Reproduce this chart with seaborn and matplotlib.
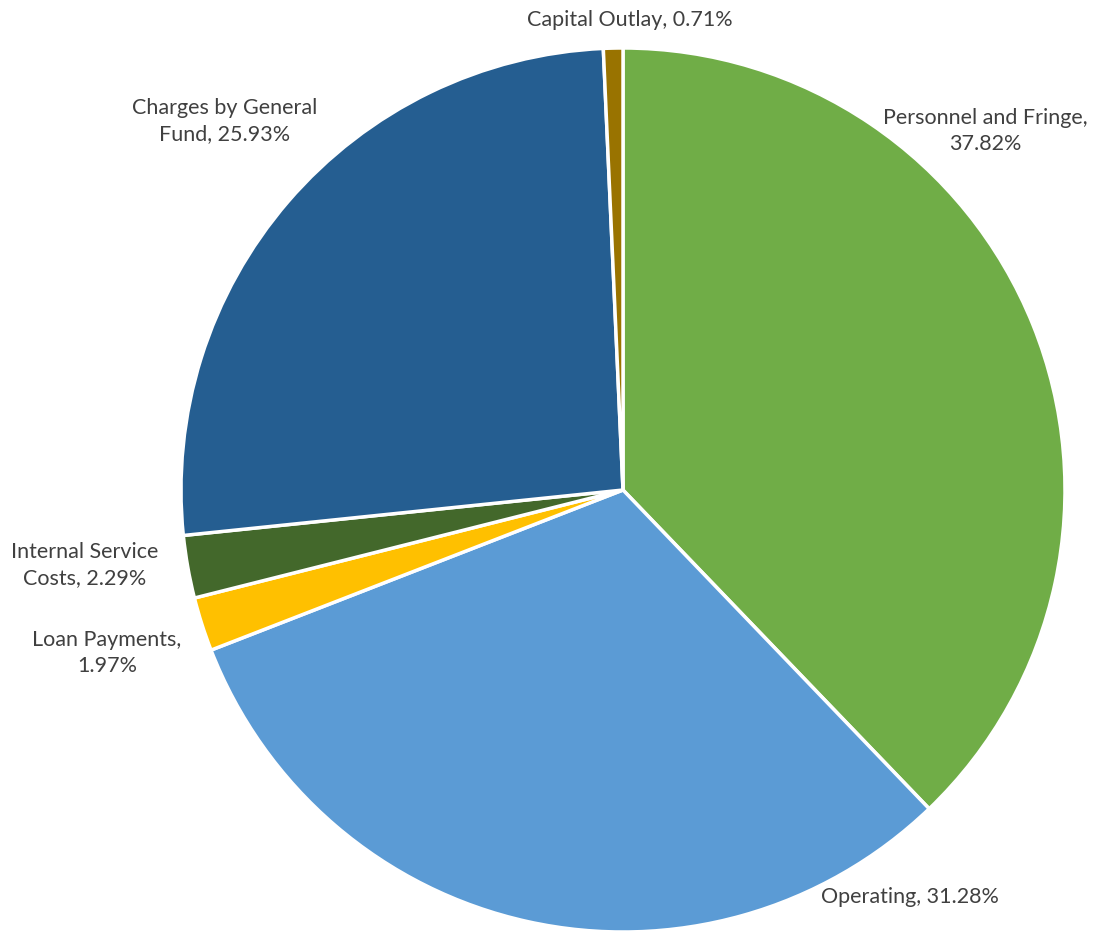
import matplotlib
matplotlib.use("Agg")
import matplotlib.pyplot as plt
import seaborn as sns

sns.set_theme(style="white")
plt.rcParams['font.family'] = ['Lato', 'DejaVu Sans']

# Budget categories, clockwise from 12 o'clock
categories = ["Personnel and Fringe", "Operating", "Loan Payments",
              "Internal Service Costs", "Charges by General Fund", "Capital Outlay"]
shares = [37.82, 31.28, 1.97, 2.29, 25.93, 0.71]
label_texts = ["Personnel and Fringe,\n37.82%", "Operating, 31.28%", "Loan Payments,\n1.97%",
               "Internal Service\nCosts, 2.29%", "Charges by General\nFund, 25.93%",
               "Capital Outlay, 0.71%"]
colors = ["#70AD47", "#5B9BD5", "#FFC000", "#43682B", "#255E91", "#997300"]

# Label anchor points in figure pixels (x, y from top)
label_pos = [(985, 131), (910, 897), (107, 653), (85, 565), (225, 121), (630, 20)]

W, H = 1094, 931
fig = plt.figure(figsize=(W / 100, H / 100), dpi=100)
ax = fig.add_axes([0, 0, 1, 1])

cx, cy, r = 623, H - 490, 442
ax.pie(shares, colors=colors, startangle=90, counterclock=False,
       center=(cx, cy), radius=r, frame=True,
       wedgeprops=dict(edgecolor="white", linewidth=2.5))
ax.set_xlim(0, W)
ax.set_ylim(0, H)
ax.set_aspect("equal")
ax.axis("off")

for txt, (x, y) in zip(label_texts, label_pos):
    ax.text(x, H - y, txt, ha="center", va="center", fontsize=15.5,
            color="#404040", linespacing=1.38)

fig.savefig("out.png", dpi=100)
